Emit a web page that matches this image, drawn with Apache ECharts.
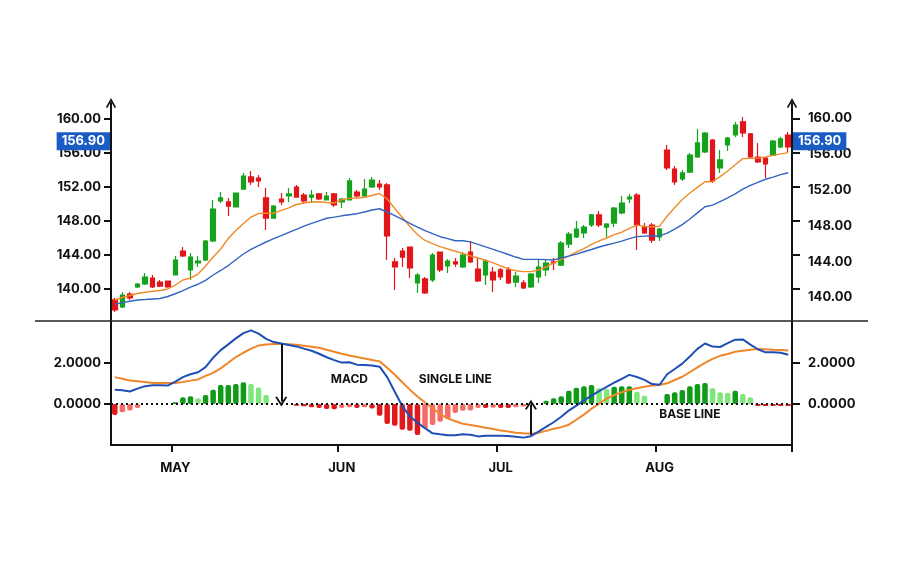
<!DOCTYPE html>
<html><head><meta charset="utf-8">
<script src="https://cdn.jsdelivr.net/npm/echarts@6/dist/echarts.min.js"></script>
<style>html,body{margin:0;padding:0;background:#fff}#c{width:900px;height:563px}</style>
</head><body><div id="c"></div>
<script>
const dates = ['04-19','04-20','04-21','04-24','04-25','04-26','04-27','04-28',
'05-01','05-02','05-03','05-04','05-05','05-08','05-09','05-10','05-11','05-12','05-15','05-16','05-17','05-18','05-19','05-22','05-23','05-24','05-25','05-26','05-30','05-31',
'06-01','06-02','06-05','06-06','06-07','06-08','06-09','06-12','06-13','06-14','06-15','06-16','06-20','06-21','06-22','06-23','06-26','06-27','06-28','06-29','06-30',
'07-03','07-04','07-05','07-06','07-07','07-10','07-11','07-12','07-13','07-14','07-17','07-18','07-19','07-20','07-21','07-24','07-25','07-26','07-27','07-28','07-31',
'08-01','08-02','08-03','08-04','08-07','08-08','08-09','08-10','08-11','08-14','08-15','08-16','08-17','08-18','08-21','08-22','08-23','08-24'];
const monthStarts = ['05-01','06-01','07-03','08-01'];
const monthLabels = ['MAY','JUN','JUL','AUG'];
const priceTicks = [140,144,148,152,156,160];
const macdTicks = [0,2];
const lastPrice = 156.90;

const opens = [138.71,137.88,139.41,140.24,140.59,141.29,140.82,140.94,141.65,144.47,
142.24,143.06,143.41,145.65,150.35,150.24,149.65,151.76,153.18,153.06,
150.71,148.35,150.59,150.94,152.0,151.06,150.82,151.18,150.47,151.18,
150.24,150.47,151.41,150.94,152.0,152.35,152.24,143.18,144.47,144.94,
140.71,141.18,141.06,144.35,142.71,143.18,142.59,144.35,142.35,141.65,
142.0,142.24,142.24,140.82,140.71,140.24,141.41,142.24,143.18,142.82,
145.29,146.12,146.59,147.53,148.71,147.29,147.76,148.94,150.59,151.06,
147.29,147.53,146.12,156.35,154.12,152.94,153.76,155.53,156.12,157.53,
154.24,156.94,158.12,159.65,158.24,155.53,155.41,155.76,156.71,158.12];
const closes = [137.53,139.29,138.94,140.59,141.41,140.24,140.35,140.24,143.41,143.88,
143.76,143.29,145.65,149.41,150.71,149.76,151.29,153.29,152.59,152.71,
148.35,149.76,150.24,151.18,150.82,150.35,151.06,150.59,150.94,149.88,
150.59,152.71,150.94,151.76,152.82,152.0,146.24,142.59,143.76,142.47,
141.65,139.53,144.0,142.24,143.29,142.94,144.0,143.18,140.94,143.29,
141.06,141.41,140.71,141.53,140.12,141.76,142.59,143.06,143.06,145.41,
146.47,147.06,147.29,148.71,147.53,147.65,149.53,150.12,150.82,147.53,
146.59,145.76,147.06,154.24,152.59,153.65,155.76,157.18,158.35,152.71,
155.18,157.76,159.29,158.35,155.53,154.94,154.71,157.41,157.65,156.71];
const lows = [137.29,137.76,138.71,140.12,140.47,140.12,140.24,140.15,141.6,143.76,
141.06,142.59,143.29,145.53,150.12,148.59,149.6,151.7,152.24,152.0,
146.94,148.3,149.88,150.24,150.75,150.12,150.12,150.47,150.4,149.65,
149.53,150.4,150.71,150.82,151.88,151.65,143.41,139.88,142.59,141.29,
139.53,139.41,140.82,142.0,141.88,142.59,142.47,143.06,140.82,140.47,
139.65,141.06,140.59,140.24,140.0,140.12,140.71,141.53,142.24,142.7,
144.82,146.0,146.0,147.29,147.29,146.12,147.3,148.8,150.12,144.59,
146.47,145.41,145.65,154.0,152.24,152.7,153.65,155.4,156.0,152.47,
153.65,156.24,157.88,157.88,155.4,154.82,153.06,155.65,156.6,156.12];
const highs = [138.94,139.65,139.65,140.71,141.88,141.65,141.06,141.0,143.88,144.94,
144.24,143.88,145.76,150.47,151.41,150.71,151.35,153.65,153.88,153.41,
151.88,149.88,151.29,151.88,152.24,151.29,151.65,151.29,151.41,151.29,
150.71,153.06,151.65,152.94,153.18,152.82,152.47,143.65,144.82,145.0,
141.88,141.41,144.24,144.4,143.53,143.65,144.35,145.65,143.65,143.53,
142.59,142.47,142.59,142.0,141.06,141.88,143.41,143.41,143.65,145.65,
146.71,148.0,147.53,148.82,149.18,147.76,149.65,150.94,151.18,151.29,
147.76,147.76,147.18,156.94,154.47,154.0,156.0,158.82,158.47,157.65,
156.35,157.88,159.65,160.24,158.35,157.18,155.5,157.53,157.88,158.47];

const maFast = [138.71,139.0,139.24,139.47,139.62,139.73,139.82,140.0,140.47,141.06,
141.29,141.76,142.71,143.76,144.71,145.94,146.88,147.71,148.47,148.88,
148.91,148.92,149.24,149.55,149.94,150.12,150.24,150.26,150.18,150.12,
150.51,150.66,150.71,150.8,151.0,151.24,150.59,149.47,148.41,147.35,
146.41,145.71,145.33,144.98,144.71,144.44,144.2,143.91,143.65,143.38,
143.08,142.71,142.39,142.15,142.04,142.04,142.24,142.59,143.06,143.49,
143.91,144.35,144.76,145.24,145.67,146.0,146.39,146.68,147.12,147.51,
147.36,147.33,147.39,148.56,149.59,150.52,151.29,151.95,152.62,152.62,
153.22,153.88,154.62,155.34,155.38,155.4,155.54,155.72,155.89,156.04];
const maSlow = [138.2,138.4,138.56,138.71,138.76,138.82,138.88,139.12,139.44,139.82,
140.21,140.56,141.02,141.65,142.18,142.76,143.44,144.12,144.65,145.11,
145.53,145.92,146.29,146.66,147.02,147.39,147.72,148.02,148.32,148.45,
148.61,148.74,148.86,149.06,149.29,149.44,149.06,148.62,148.18,147.73,
147.28,146.86,146.51,146.15,145.92,145.68,145.68,145.55,145.25,144.95,
144.66,144.36,144.06,143.76,143.49,143.49,143.49,143.46,143.42,143.65,
143.87,144.11,144.38,144.65,144.94,145.18,145.39,145.64,145.93,146.16,
146.22,146.24,146.24,146.58,147.05,147.58,148.24,148.96,149.68,149.87,
150.28,150.73,151.2,151.76,152.19,152.55,152.91,153.16,153.45,153.68];

const macdLine = [0.69,0.67,0.61,0.75,0.87,0.92,0.91,0.90,1.09,1.31,
1.45,1.55,1.80,2.26,2.63,2.91,3.20,3.46,3.59,3.43,
3.18,3.02,2.95,2.88,2.81,2.70,2.60,2.45,2.28,2.14,
2.02,2.04,1.92,1.90,1.88,1.82,1.31,0.60,-0.10,-0.60,
-0.91,-1.18,-1.43,-1.48,-1.52,-1.53,-1.48,-1.50,-1.58,-1.55,
-1.55,-1.55,-1.56,-1.60,-1.64,-1.57,-1.35,-1.12,-0.89,-0.62,
-0.32,-0.08,0.18,0.41,0.63,0.84,1.04,1.23,1.42,1.32,
1.18,0.97,0.94,1.45,1.71,1.97,2.32,2.69,2.95,2.80,
2.78,2.97,3.14,3.15,2.90,2.67,2.52,2.52,2.50,2.40];
const signalLine = [1.31,1.23,1.15,1.11,1.07,1.03,1.02,1.02,1.03,1.07,
1.14,1.20,1.37,1.52,1.74,2.01,2.29,2.50,2.70,2.85,
2.90,2.93,2.93,2.92,2.89,2.84,2.79,2.74,2.65,2.55,
2.45,2.37,2.29,2.22,2.15,2.08,1.77,1.43,1.06,0.70,
0.37,0.07,-0.21,-0.49,-0.70,-0.84,-0.96,-1.02,-1.09,-1.16,
-1.22,-1.29,-1.34,-1.40,-1.43,-1.45,-1.41,-1.31,-1.21,-1.13,
-1.01,-0.77,-0.52,-0.23,0.01,0.26,0.44,0.57,0.69,0.77,
0.84,0.90,0.93,1.01,1.17,1.33,1.55,1.79,2.01,2.20,
2.35,2.44,2.55,2.60,2.65,2.68,2.67,2.65,2.64,2.61];
const histogram = [-0.54,-0.40,-0.32,-0.20,null,null,null,null,
0.08,0.33,0.38,0.28,0.44,0.70,0.93,0.93,0.98,1.06,0.98,0.81,0.44,
null,null,null,
-0.08,-0.11,-0.16,-0.20,-0.24,-0.26,-0.20,-0.16,-0.20,-0.16,-0.22,
-0.57,-0.98,-1.06,-1.25,-1.30,-1.51,
-1.19,-1.02,-0.86,-0.73,-0.44,-0.33,-0.32,
-0.20,-0.20,-0.18,-0.20,-0.20,-0.16,-0.12,
null,null,
0.16,0.28,0.38,0.65,0.79,0.86,0.93,0.77,0.73,0.84,0.86,0.87,0.60,0.40,
null,null,
0.49,0.57,0.68,0.86,0.98,1.02,0.77,0.57,0.55,0.65,0.49,0.33,
-0.10,-0.10,-0.10,-0.10,-0.10];

const candles = dates.map((d, i) => [opens[i], closes[i], lows[i], highs[i]]);

const GREEN = '#17a21d', RED = '#e1161b';
const HG_DARK = '#0f9a18', HG_LIGHT = '#7fe67b', HR_DARK = '#e01a1c', HR_LIGHT = '#f46c66';
const INK = '#111';
const FONT = 'Inter, "Open Sans", sans-serif';
const chevron = 'path://M0,9 L5,0 L10,9 L8.6,9.8 L5,3.4 L1.4,9.8 Z';

const chart = echarts.init(document.getElementById('c'), null, {renderer: 'canvas'});
const baseLabel = {color: INK, fontWeight: 'bold', fontSize: 13, fontFamily: FONT};
const priceTag = {show: true, formatter: lastPrice.toFixed(2), backgroundColor: '#1b5bc4', color: '#fff',
  fontWeight: 'bold', fontSize: 13, fontFamily: FONT, padding: [3, 5, 2, 5], distance: 1, offset: [0, -4]};

chart.setOption({
  animation: false,
  backgroundColor: '#fff',
  textStyle: {fontFamily: FONT},
  grid: [
    {left: 111, right: 108, top: 103, height: 219},
    {left: 111, right: 108, top: 322, height: 123}
  ],
  xAxis: [
    {type: 'category', gridIndex: 0, data: dates, show: false},
    {type: 'category', gridIndex: 1, data: dates,
      axisLine: {onZero: false, lineStyle: {color: INK, width: 2}},
      axisTick: {show: true, length: 7, lineStyle: {color: INK, width: 2},
        interval: (idx, val) => monthStarts.includes(val)},
      axisLabel: Object.assign({}, baseLabel, {margin: 17,
        interval: (idx, val) => monthStarts.includes(val),
        formatter: v => { const k = monthStarts.indexOf(v); return k >= 0 ? monthLabels[k] : ''; }}),
      splitLine: {show: false}}
  ],
  yAxis: [
    {type: 'value', gridIndex: 0, position: 'left', min: 136.118, max: 161.882,
      axisLine: {show: true, symbol: ['none', chevron], symbolSize: [11, 10], lineStyle: {color: INK, width: 2}},
      axisTick: {show: true, length: 7, customValues: priceTicks, lineStyle: {color: INK, width: 2}},
      axisLabel: Object.assign({}, baseLabel, {margin: 10, customValues: priceTicks, formatter: v => v.toFixed(2)}),
      splitLine: {show: false}},
    {type: 'value', gridIndex: 0, position: 'right', min: 136.118, max: 161.882,
      axisLine: {show: true, symbol: ['none', chevron], symbolSize: [11, 10], lineStyle: {color: INK, width: 2}},
      axisTick: {show: true, length: 8, customValues: priceTicks, lineStyle: {color: INK, width: 2}},
      axisLabel: {show: false}, splitLine: {show: false}},
    {type: 'value', gridIndex: 0, position: 'right', offset: 0, min: 137.263, max: 161.732,
      axisLine: {show: false}, axisTick: {show: false},
      axisLabel: Object.assign({}, baseLabel, {margin: 16, customValues: priceTicks, formatter: v => v.toFixed(2)}),
      splitLine: {show: false}},
    {type: 'value', gridIndex: 1, position: 'left', min: -2, max: 4,
      axisLine: {show: true, lineStyle: {color: INK, width: 2}},
      axisTick: {show: true, length: 7, customValues: macdTicks, lineStyle: {color: INK, width: 2}},
      axisLabel: Object.assign({}, baseLabel, {margin: 10, customValues: macdTicks, formatter: v => v.toFixed(4)}),
      splitLine: {show: false}},
    {type: 'value', gridIndex: 1, position: 'right', min: -2, max: 4,
      axisLine: {show: true, lineStyle: {color: INK, width: 2}},
      axisTick: {show: true, length: 8, customValues: macdTicks, lineStyle: {color: INK, width: 2}},
      axisLabel: Object.assign({}, baseLabel, {margin: 16, customValues: macdTicks, formatter: v => v.toFixed(4)}),
      splitLine: {show: false}}
  ],
  series: [
    {type: 'candlestick', name: 'Price', xAxisIndex: 0, yAxisIndex: 0, data: candles, barWidth: 5,
      itemStyle: {color: GREEN, color0: RED, borderColor: GREEN, borderColor0: RED, borderWidth: 1.2},
      markLine: {silent: true, symbol: 'none', z: 20,
        lineStyle: {color: 'rgba(0,0,0,0)', width: 1, type: 'solid'},
        data: [
          {yAxis: lastPrice, label: Object.assign({}, priceTag, {position: 'start'})},
          {yAxis: lastPrice, label: Object.assign({}, priceTag, {position: 'end'})}
        ]}},
    {type: 'line', name: 'MA fast', xAxisIndex: 0, yAxisIndex: 0, data: maFast, symbol: 'none',
      lineStyle: {color: '#f08a2a', width: 1.4}, z: 3},
    {type: 'line', name: 'MA slow', xAxisIndex: 0, yAxisIndex: 0, data: maSlow, symbol: 'none',
      lineStyle: {color: '#3264c2', width: 1.4}, z: 3},
    {type: 'bar', name: 'Histogram', xAxisIndex: 1, yAxisIndex: 3, data: histogram, barWidth: 5.5,
      itemStyle: {borderRadius: 2, color: p => {
        const v = p.value, prev = histogram[p.dataIndex - 1], pv = (prev == null) ? 0 : prev;
        if (v >= 0) return (pv > 0 && v < pv) ? HG_LIGHT : HG_DARK;
        return (pv < 0 && v > pv) ? HR_LIGHT : HR_DARK;
      }},
      markLine: {silent: true, symbol: 'none', z: 10, label: {show: false},
        lineStyle: {color: INK, width: 2.2, type: [2, 3]}, data: [{yAxis: 0}]}},
    {type: 'line', name: 'Signal', xAxisIndex: 1, yAxisIndex: 3, data: signalLine, symbol: 'none',
      lineStyle: {color: '#f0862a', width: 2}, z: 4},
    {type: 'line', name: 'MACD', xAxisIndex: 1, yAxisIndex: 3, data: macdLine, symbol: 'none',
      lineStyle: {color: '#1f4fb5', width: 2}, z: 5,
      markLine: {silent: true, symbol: ['none', chevron], symbolSize: [12, 10], z: 8,
        lineStyle: {color: INK, width: 2, type: 'solid'}, label: {show: false},
        data: [
          [{coord: [22, 2.92]}, {coord: [22, 0.12]}],
          [{coord: [55, -1.5]}, {coord: [55, -0.04]}]
        ]},
      markPoint: {silent: true, symbol: 'circle', symbolSize: 1, itemStyle: {color: 'rgba(0,0,0,0)'},
        label: {show: true, position: 'inside', color: INK, fontWeight: 'bold', fontSize: 12, fontFamily: FONT},
        data: [
          {coord: [31, 1.19], label: {formatter: 'MACD'}},
          {coord: [45, 1.19], label: {formatter: 'SINGLE LINE'}},
          {coord: [76, -0.52], label: {formatter: 'BASE LINE'}}
        ]}}
  ],
  graphic: [
    {type: 'line', shape: {x1: 35, y1: 321, x2: 868, y2: 321}, style: {stroke: '#222', lineWidth: 1.5}, z: 100}
  ]
});
</script></body></html>
